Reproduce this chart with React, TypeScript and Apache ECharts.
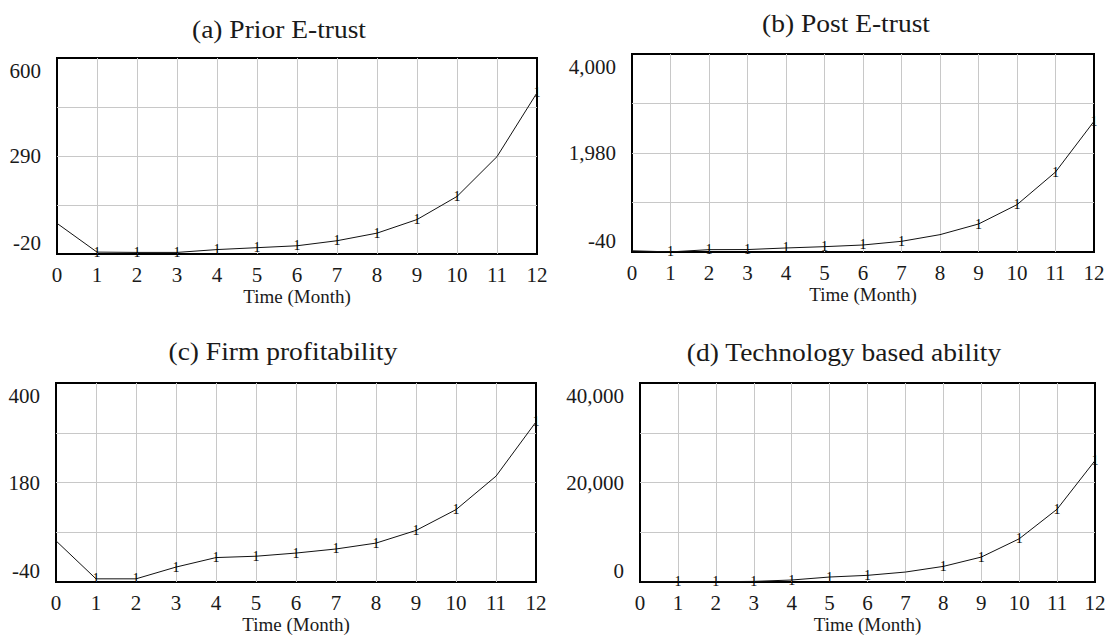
import React, { useEffect, useRef } from "react";
import * as echarts from "echarts";

// ---- data ----
const months = [0, 1, 2, 3, 4, 5, 6, 7, 8, 9, 10, 11, 12];

const priorETrust = [77, -14, -15, -15, -6, 0, 6, 22, 46, 89, 162, 288, 490];
const postETrust = [-15, -38, 8, 10, 42, 69, 103, 178, 314, 531, 926, 1592, 2626];
const firmProfitability = [51, -33, -33, -7, 14, 17, 24, 33, 46, 74, 120, 194, 314];
const technologyAbility = [0, 30, 60, 120, 400, 1000, 1340, 2000, 3140, 5010, 8680, 14630, 24400];

const panelTitles = [
  "(a) Prior E-trust",
  "(b) Post E-trust",
  "(c) Firm profitability",
  "(d) Technology based ability",
];

const yMins = [-20, -40, -40, 0];
const yMaxs = [600, 4000, 400, 40000];
const yTickLabels = [
  [-20, 290, 600],
  [-40, 1980, 4000],
  [-40, 180, 400],
  [0, 20000, 40000],
];

// months where the "1" line marker is drawn
const markedMonths = [
  [1, 2, 3, 4, 5, 6, 7, 8, 9, 10, 12],
  [1, 2, 3, 4, 5, 6, 7, 9, 10, 11, 12],
  [1, 2, 3, 4, 5, 6, 7, 8, 9, 10, 12],
  [1, 2, 3, 4, 5, 6, 8, 9, 10, 11, 12],
];

const xAxisName = "Time (Month)";

// ---- layout (pixels) ----
const grids = [
  { left: 57, top: 58, width: 480, height: 196 },
  { left: 632, top: 54, width: 462, height: 198 },
  { left: 56, top: 383, width: 480, height: 199 },
  { left: 640, top: 383, width: 455, height: 199 },
];
const titlePos = [
  { x: 279, y: 30 },
  { x: 846, y: 24 },
  { x: 283, y: 352 },
  { x: 844, y: 353 },
];

const FONT = '"Liberation Serif", "Times New Roman", serif';
const TEXT = "#1a1a1a";

export default function App() {
  const ref = useRef<HTMLDivElement>(null);

  useEffect(() => {
    if (!ref.current) return;
    const chart = echarts.init(ref.current, undefined, { renderer: "svg" });
    const seriesData = [priorETrust, postETrust, firmProfitability, technologyAbility];

    const fmt = (v: number) => v.toLocaleString("en-US");

    const option: any = {
      animation: false,
      backgroundColor: "#ffffff",
      color: ["#111111"],
      grid: grids.map((g) => ({
        ...g,
        show: true,
        borderColor: "#000",
        borderWidth: 2,
        backgroundColor: "transparent",
        containLabel: false,
      })),
      xAxis: grids.map((_, i) => ({
        type: "value",
        gridIndex: i,
        min: 0,
        max: 12,
        interval: 1,
        name: xAxisName,
        nameLocation: "middle",
        nameGap: 33,
        nameTextStyle: { fontFamily: FONT, fontSize: 19, color: TEXT },
        axisLine: { show: false },
        axisTick: { show: false, customValues: months.slice(1, 12) },
        splitLine: { show: true, lineStyle: { color: "#c8c8c8", width: 1 } },
        axisLabel: {
          customValues: months,
          margin: 10,
          fontFamily: FONT,
          fontSize: 21,
          color: TEXT,
        },
      })),
      yAxis: grids.map((_, i) => {
        const min = yMins[i];
        const max = yMaxs[i];
        const step = (max - min) / 4;
        return {
          type: "value",
          gridIndex: i,
          min,
          max,
          axisLine: { show: false },
          axisTick: { show: false, customValues: [min + step, min + 2 * step, min + 3 * step] },
          splitLine: { show: true, lineStyle: { color: "#c8c8c8", width: 1 } },
          axisLabel: {
            customValues: yTickLabels[i],
            margin: 16,
            fontFamily: FONT,
            fontSize: 21,
            color: TEXT,
            formatter: (v: number) =>
              v === max ? `{hi|${fmt(v)}}` : v === min ? `{lo|${fmt(v)}}` : `{mid|${fmt(v)}}`,
            rich: {
              hi: { fontFamily: FONT, fontSize: 21, color: TEXT, padding: [26, 0, 0, 0] },
              lo: { fontFamily: FONT, fontSize: 21, color: TEXT, padding: [0, 0, 23, 0] },
              mid: { fontFamily: FONT, fontSize: 21, color: TEXT },
            },
          },
        };
      }),
      series: seriesData.map((vals, i) => ({
        type: "line",
        xAxisIndex: i,
        yAxisIndex: i,
        showSymbol: true,
        symbol: "circle",
        symbolSize: 1,
        itemStyle: { color: "#111111", opacity: 0 },
        clip: true,
        lineStyle: { color: "#111", width: 1, opacity: 1 },
        data: months.map((m, k) => ({
          value: [m, vals[k]],
          label: {
            show: markedMonths[i].includes(m),
            formatter: "1",
            position: "inside",
            fontFamily: FONT,
            fontSize: 14,
            color: "#000000",
            textBorderWidth: 0,
            textBorderColor: "transparent",
            opacity: 1,
          },
        })),
      })),
      graphic: panelTitles.map((t, i) => ({
        type: "text",
        x: titlePos[i].x,
        y: titlePos[i].y,
        scaleX: 1.1,
        style: {
          text: t,
          fontFamily: FONT,
          fontSize: 25,
          fill: TEXT,
          align: "center",
          verticalAlign: "middle",
        },
      })),
    };

    chart.setOption(option);
    return () => chart.dispose();
  }, []);

  return (
    <div
      ref={ref}
      style={{ position: "fixed", left: 0, top: 0, width: 1111, height: 638, background: "#fff" }}
    />
  );
}
